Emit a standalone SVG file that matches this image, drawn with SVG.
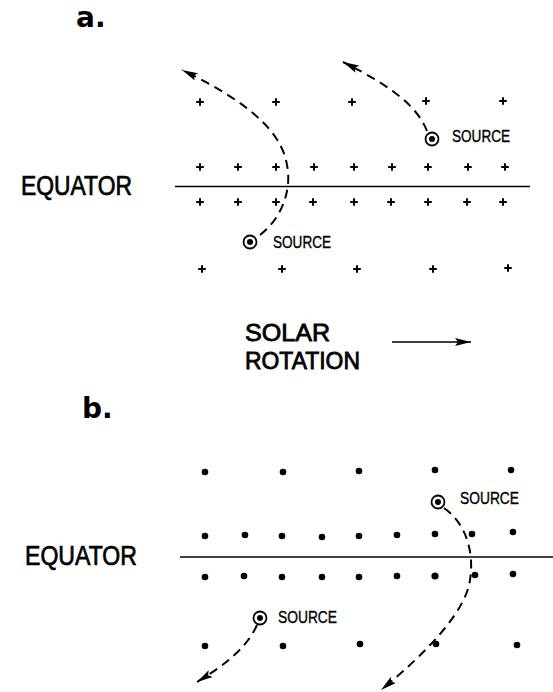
<svg xmlns="http://www.w3.org/2000/svg" width="553" height="692" viewBox="0 0 553 692">
<style>
.bg{fill:#fff}
.lbl{font-family:"Liberation Sans",Arial,sans-serif;fill:#000;stroke:#000}
.big{font-size:27px;stroke-width:0.7}
.rot{font-size:23.5px;stroke-width:0.8}
.src{font-size:16px;stroke-width:0.35}
.pan{font-family:"DejaVu Sans",sans-serif;font-weight:bold;font-size:28px;fill:#000}
.eq{stroke:#000;stroke-width:1.7;fill:none}
.dash{stroke:#000;stroke-width:2;fill:none;stroke-dasharray:9 6}
.plus{stroke:#000;stroke-width:2;fill:none}
.dot{fill:#000}
.ring{stroke:#000;stroke-width:1.8;fill:#fff}
.solid{stroke:#000;stroke-width:1.7;fill:none}
</style>
<defs>
<marker id="ah" viewBox="0 0 16 8" refX="16" refY="4" markerWidth="16" markerHeight="8" markerUnits="userSpaceOnUse" orient="auto">
<path d="M0,0 L16,4 L0,8 L3,4 Z" fill="#000" stroke="none"/>
</marker>
<g id="p"><path d="M-3.8,0 H3.8 M0,-3.8 V3.8" class="plus"/></g>
</defs>
<rect class="bg" x="0" y="0" width="553" height="692"/>

<g id="panel-a">
<text class="pan" x="76" y="27">a.</text>
<g id="equator-a">
<line class="eq" x1="175" y1="186.5" x2="530" y2="186.5"/>
<text class="lbl big" x="21" y="195" textLength="111" lengthAdjust="spacingAndGlyphs">EQUATOR</text>
</g>
<g id="grid-a">
<use href="#p" x="200" y="102"/><use href="#p" x="276" y="102"/><use href="#p" x="352" y="102"/><use href="#p" x="426" y="101"/><use href="#p" x="503" y="101"/>
<use href="#p" x="200" y="167"/><use href="#p" x="238" y="167"/><use href="#p" x="276" y="167"/><use href="#p" x="314" y="167"/><use href="#p" x="354" y="167"/><use href="#p" x="392" y="167"/><use href="#p" x="428" y="167"/><use href="#p" x="468" y="167"/><use href="#p" x="505" y="167"/>
<use href="#p" x="200" y="202"/><use href="#p" x="238" y="202"/><use href="#p" x="276" y="202"/><use href="#p" x="313" y="202"/><use href="#p" x="354" y="202"/><use href="#p" x="391" y="202"/><use href="#p" x="428" y="202"/><use href="#p" x="467" y="202"/><use href="#p" x="503" y="202"/>
<use href="#p" x="202" y="269"/><use href="#p" x="282" y="269"/><use href="#p" x="357" y="269"/><use href="#p" x="433" y="269"/><use href="#p" x="508" y="268"/>
</g>
<g id="source-a1">
<circle class="ring" cx="432" cy="139" r="6.5"/><circle class="dot" cx="432" cy="139" r="3"/>
<text class="lbl src" x="452" y="142" textLength="58" lengthAdjust="spacingAndGlyphs">SOURCE</text>
</g>
<g id="source-a2">
<circle class="ring" cx="250" cy="242" r="6.5"/><circle class="dot" cx="250" cy="242" r="3"/>
<text class="lbl src" x="273" y="247.5" textLength="58" lengthAdjust="spacingAndGlyphs">SOURCE</text>
</g>
<g id="rotation">
<text class="lbl rot" x="245" y="341" textLength="85" lengthAdjust="spacingAndGlyphs">SOLAR</text>
<text class="lbl rot" x="245" y="368.5" textLength="115" lengthAdjust="spacingAndGlyphs">ROTATION</text>
</g>
</g>

<g id="panel-b">
<text class="pan" x="82" y="418">b.</text>
<g id="equator-b">
<line class="eq" x1="180" y1="557" x2="553" y2="557"/>
<text class="lbl big" x="25" y="565" textLength="112" lengthAdjust="spacingAndGlyphs">EQUATOR</text>
</g>
<g id="grid-b">
<circle class="dot" cx="205" cy="472" r="3.3"/><circle class="dot" cx="283" cy="472" r="3.3"/><circle class="dot" cx="359" cy="471" r="3.3"/><circle class="dot" cx="435" cy="470" r="3.3"/><circle class="dot" cx="511" cy="470" r="3.3"/>
<circle class="dot" cx="205" cy="536" r="3.3"/><circle class="dot" cx="245" cy="535" r="3.3"/><circle class="dot" cx="282" cy="536" r="3.3"/><circle class="dot" cx="322" cy="537" r="3.3"/><circle class="dot" cx="359" cy="536" r="3.3"/><circle class="dot" cx="397" cy="535" r="3.3"/><circle class="dot" cx="435" cy="534" r="3.3"/><circle class="dot" cx="472" cy="534" r="3.3"/><circle class="dot" cx="513" cy="532" r="3.3"/>
<circle class="dot" cx="205" cy="577" r="3.3"/><circle class="dot" cx="244" cy="576" r="3.3"/><circle class="dot" cx="282" cy="577" r="3.3"/><circle class="dot" cx="322" cy="577" r="3.3"/><circle class="dot" cx="359" cy="577" r="3.3"/><circle class="dot" cx="397" cy="576" r="3.3"/><circle class="dot" cx="435" cy="576" r="3.6"/><circle class="dot" cx="475" cy="575" r="3.3"/><circle class="dot" cx="513" cy="574" r="3.3"/>
<circle class="dot" cx="205" cy="646" r="3.3"/><circle class="dot" cx="283" cy="646" r="3.3"/><circle class="dot" cx="360" cy="644" r="3.3"/><circle class="dot" cx="436" cy="644" r="3.3"/><circle class="dot" cx="517" cy="645" r="3.3"/>
</g>
<g id="source-b1">
<circle class="ring" cx="438" cy="502" r="6.5"/><circle class="dot" cx="438" cy="502" r="3"/>
<text class="lbl src" x="460" y="504" textLength="59" lengthAdjust="spacingAndGlyphs">SOURCE</text>
</g>
<g id="source-b2">
<circle class="ring" cx="260" cy="618" r="6.5"/><circle class="dot" cx="260" cy="618" r="3"/>
<text class="lbl src" x="278" y="623" textLength="59" lengthAdjust="spacingAndGlyphs">SOURCE</text>
</g>
</g>

<g id="connectors">
<path class="dash" d="M260,235 C282,218 292,190 287,165 C282,135 255,105 182,70" marker-end="url(#ah)"/>
<path class="dash" d="M427,131 C418,108 395,88 343,62" marker-end="url(#ah)"/>
<path class="dash" d="M444,508 C468,525 474,555 470,580 C466,610 430,650 381,690" marker-end="url(#ah)"/>
<path class="dash" d="M257,625 C248,645 230,662 197,682" marker-end="url(#ah)"/>
<line class="solid" x1="392" y1="342" x2="471" y2="342" marker-end="url(#ah)"/>
</g>
</svg>
